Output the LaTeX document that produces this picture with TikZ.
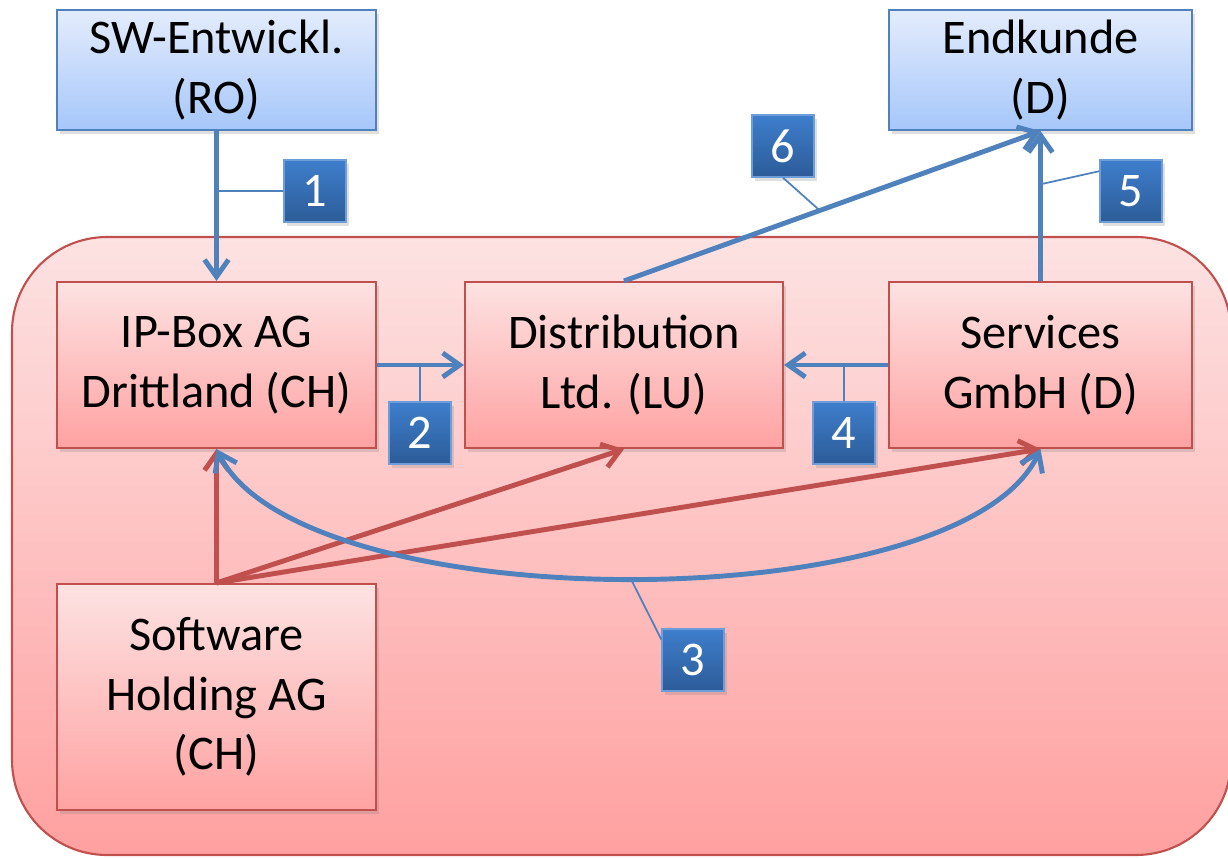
\documentclass[tikz,border=0pt]{standalone}
\usepackage{fontspec}
\setmainfont{Carlito}
\usetikzlibrary{arrows.meta,positioning,calc,shadows}
\definecolor{lineBlue}{RGB}{79,129,189}
\definecolor{lineRed} {RGB}{192,80,77}
\definecolor{boxBlueT}{RGB}{228,236,252}
\definecolor{boxBlueB}{RGB}{166,199,250}
\definecolor{boxRedT} {RGB}{253,226,226}
\definecolor{boxRedB} {RGB}{255,162,162}
\definecolor{grpRedT} {RGB}{253,226,226}
\definecolor{grpRedB} {RGB}{255,160,160}
\definecolor{nrBlueT} {RGB}{62,126,204}
\definecolor{nrBlueB} {RGB}{44,92,152}

\begin{document}
\begin{tikzpicture}[
          txt/.style={font=\fontsize{27.5}{34}\selectfont,align=center},
          schatten/.style={drop shadow={shadow xshift=0.6mm,shadow yshift=-0.7mm,opacity=0.25}},
          extern/.style={txt,schatten,draw=lineBlue,line width=1.2pt,
                         top color=boxBlueT,bottom color=boxBlueB,minimum height=2.4cm},
          firma/.style={txt,schatten,draw=lineRed,line width=1.2pt,
                        top color=boxRedT,bottom color=boxRedB},
          nr/.style={txt,schatten,text=white,draw=nrBlueT!75!white,line width=0.8pt,
                     top color=nrBlueT,bottom color=nrBlueB,minimum size=1.24cm,inner sep=0pt},
          fluss/.style={lineBlue,line width=2.8pt,-{Straight Barb[length=3.4mm,width=4.8mm]}},
          anteil/.style={lineRed,line width=2.8pt,-{Straight Barb[length=3.4mm,width=4.8mm]}},
          zeiger/.style={lineBlue,line width=1pt}]
          \useasboundingbox (0,0) rectangle (24.56,-17.14);
          % Konzern
          \draw[lineRed,line width=1.2pt,rounded corners=1.9cm,top color=grpRedT,bottom color=grpRedB]
            (0.24,-4.74) rectangle (24.62,-17.10);
          \node[extern,minimum width=6.38cm](sw) at (4.33,-1.40){SW-Entwickl.\\(RO)};
          \node[extern,minimum width=6.06cm](kunde) at (20.81,-1.40){Endkunde\\(D)};
          \node[firma,minimum width=6.38cm,minimum height=3.32cm](ipbox) at (4.33,-7.30){IP-Box AG\\Drittland (CH)};
          \node[firma,minimum width=6.36cm,minimum height=3.32cm](dist) at (12.48,-7.30){Distribution\\Ltd. (LU)};
          \node[firma,minimum width=6.06cm,minimum height=3.32cm](serv) at (20.81,-7.30){Services\\GmbH (D)};
          \node[firma,minimum width=6.38cm,minimum height=4.52cm](hold) at (4.33,-13.94){Software\\Holding AG\\(CH)};
          % Beteiligungen
          \draw[anteil] (hold.north)--(ipbox.south);
          \draw[anteil] (hold.north)--(dist.south);
          \draw[anteil] (hold.north)--(serv.south);
          % Leistungen
          \draw[fluss] (sw.south)--(ipbox.north);
          \draw[fluss] (ipbox.east)--(dist.west);
          \draw[fluss] (serv.west)--(dist.east);
          \draw[fluss] (serv.north)--(kunde.south) coordinate[pos=0.645](c5);
          \draw[fluss] (dist.north)--(kunde.south) coordinate[pos=0.47](c6);
          \draw[fluss,{Straight Barb[length=3.4mm,width=4.8mm]}-{Straight Barb[length=3.4mm,width=4.8mm]}]
            (ipbox.south) .. controls +(1.7,-3.44) and +(-1.6,-3.44) .. (serv.south)
            coordinate[pos=0.5](c3);
          % Nummern
          \node[nr](n1) at (6.30,-3.82){1};
          \node[nr](n2) at (8.40,-8.66){2};
          \node[nr](n3) at (13.86,-13.20){3};
          \node[nr](n4) at (16.88,-8.66){4};
          \node[nr](n5) at (22.62,-3.82){5};
          \node[nr](n6) at (15.66,-2.92){6};
          \draw[zeiger]
            (n1.west)--(n1.west -| sw.south)
            (n2.north)--(n2.north |- ipbox.east)
            (n4.north)--(n4.north |- serv.west)
            (n5.148)--(c5)
            (n6.south)--(c6)
            (n3.147)--(c3);
        \end{tikzpicture}
\end{document}
